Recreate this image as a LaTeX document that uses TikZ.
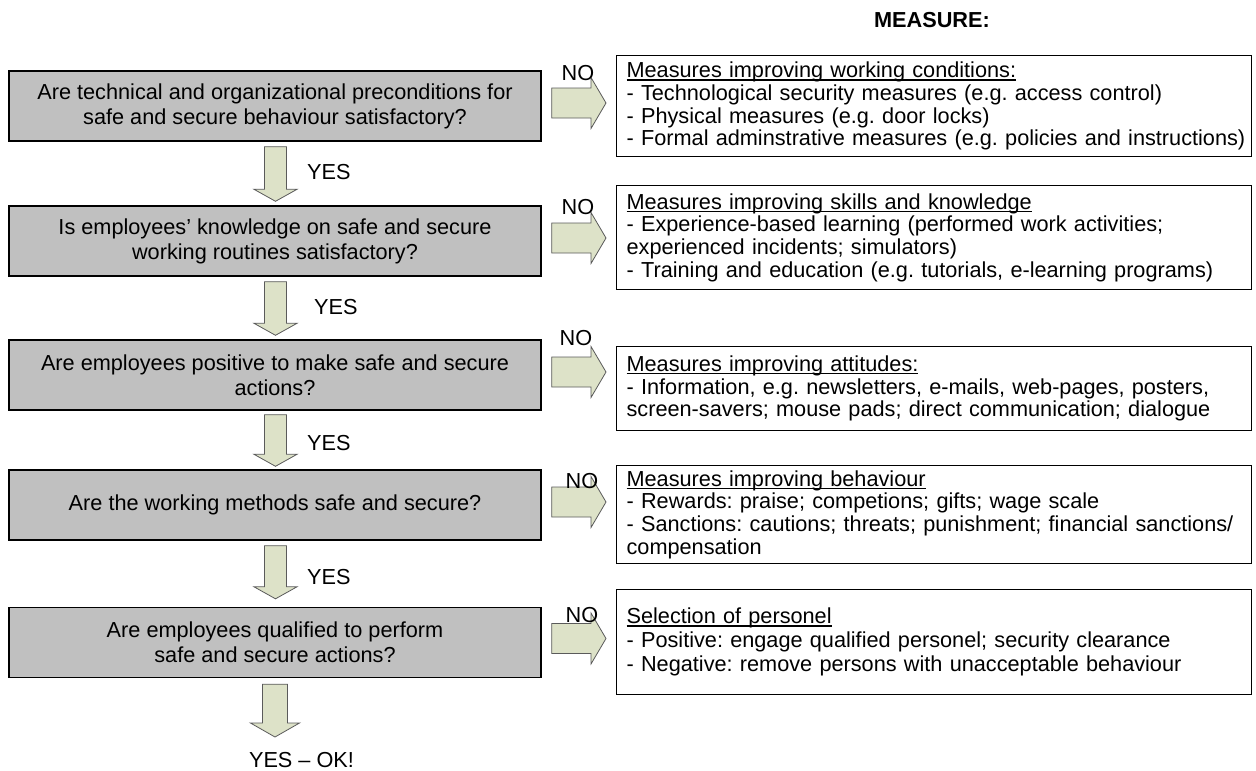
\documentclass[tikz,border=0pt]{standalone}
\usepackage{fontspec}
\setmainfont{Liberation Sans}
\usetikzlibrary{calc}

\definecolor{boxgray}{RGB}{192,192,192}
\definecolor{arrowfill}{RGB}{221,226,200}
\definecolor{arrowline}{RGB}{90,90,90}

% underline that runs just below the baseline, through the descenders
\newcommand{\ulinetext}[1]{\setbox0\hbox{#1}\rlap{\rule[-2.8pt]{\wd0}{1.2pt}}\box0}
% downward block arrow: #1 start, #2 tip, #3 shaft half width, #4 head half width, #5 head length
\newcommand{\downblock}[5]{%
  \path[blockarrow] let \p1=(#1), \p2=(#2) in
    (\x1-#3,\y1) -- (\x1+#3,\y1) -- (\x1+#3,\y2+#5) -- (\x1+#4,\y2+#5)
    -- (\x1,\y2) -- (\x1-#4,\y2+#5) -- (\x1-#3,\y2+#5) -- cycle;}
% rightward block arrow: #1 start, #2 tip, #3 shaft half height, #4 head half height, #5 head length
\newcommand{\rightblock}[5]{%
  \path[blockarrow] let \p1=(#1), \p2=(#2) in
    (\x1,\y1+#3) -- (\x2-#5,\y1+#3) -- (\x2-#5,\y1+#4) -- (\x2,\y1)
    -- (\x2-#5,\y1-#4) -- (\x2-#5,\y1-#3) -- (\x1,\y1-#3) -- cycle;}

\begin{document}
\frenchspacing
\begin{tikzpicture}[x=1pt,y=-1pt,
  font=\fontsize{21.7pt}{25pt}\selectfont,
  question/.style={draw=black, line width=1.4pt, fill=boxgray, minimum width=532pt,
    minimum height=70pt, align=center, inner sep=0pt},
  measure/.style={draw=black, line width=1.2pt, anchor=north west, inner xsep=10.5pt,
    inner ysep=0pt, text width=614pt, align=left},
  tight/.style={font=\fontsize{21.7pt}{22.6pt}\selectfont},
  loose/.style={font=\fontsize{21.7pt}{24pt}\selectfont},
  blockarrow/.style={draw=arrowline, fill=arrowfill, line width=0.8pt, line join=miter},
  lbl/.style={inner sep=0pt}]

\useasboundingbox (0,0) rectangle (1256,771);

\node[lbl, font=\fontsize{21.7pt}{24pt}\bfseries\selectfont] (head) at (932,20.5) {MEASURE:};

% questions
\node[question] (q1) at (275,106) {Are technical and organizational preconditions for\\safe and secure behaviour satisfactory?};
\node[question] (q2) at (275,241) {Is employees’ knowledge on safe and secure\\working routines satisfactory?};
\node[question] (q3) at (275,375) {Are employees positive to make safe and secure\\actions?};
\node[question] (q4) at (275,505) {Are the working methods safe and secure?};
\node[question] (q5) at (275,642.5) {Are employees qualified to perform\\safe and secure actions?};

% measures
\node[measure, tight, minimum height=101pt] (m1) at (615.5,55) {\ulinetext{Measures improving working conditions:}\\
\mbox{- Technological security measures (e.g. access control)}\\
\mbox{- Physical measures (e.g. door locks)}\\
\mbox{- Formal adminstrative measures (e.g. policies and instructions)}};
\node[measure, tight, minimum height=104pt] (m2) at (615.5,185) {\ulinetext{Measures improving skills and knowledge}\\
\mbox{- Experience-based learning (performed work activities;}\\
\mbox{experienced incidents; simulators)}\\
\mbox{- Training and education (e.g. tutorials, e-learning programs)}};
\node[measure, tight, minimum height=84pt] (m3) at (615.5,346) {\ulinetext{Measures improving attitudes:}\\
\mbox{- Information, e.g. newsletters, e-mails, web-pages, posters,}\\
\mbox{screen-savers; mouse pads; direct communication; dialogue}};
\node[measure, tight, minimum height=98pt] (m4) at (615.5,465) {\ulinetext{Measures improving behaviour}\\
\mbox{- Rewards: praise; competions; gifts; wage scale}\\
\mbox{- Sanctions: cautions; threats; punishment; financial sanctions/}\\
\mbox{compensation}};
\node[measure, loose, minimum height=105pt] (m5) at (615.5,589) {\ulinetext{Selection of personel}\\
\mbox{- Positive: engage qualified personel; security clearance}\\
\mbox{- Negative: remove persons with unacceptable behaviour}};

% YES arrows down the chain
\downblock{$(q1.south)+(0.5,5)$}{$(q2.north)+(0.5,-4)$}{11pt}{21.5pt}{12pt}
\downblock{$(q2.south)+(0.5,5)$}{$(q3.north)+(0.5,-4)$}{11pt}{21.5pt}{12pt}
\downblock{$(q3.south)+(0.5,4)$}{$(q4.north)+(0.5,-3)$}{11pt}{21.5pt}{12pt}
\downblock{$(q4.south)+(0.5,5)$}{$(q5.north)+(0.5,-8)$}{11pt}{21.5pt}{12pt}
\coordinate (okTip) at (275,737);
\downblock{$(q5.south)+(0,6)$}{okTip}{12.5pt}{24.5pt}{14pt}

% NO arrows to the measures
\rightblock{$(q1.east)+(10,-3)$}{$(m1.west)+(-9.5,0)$}{15pt}{25.5pt}{15pt}
\rightblock{$(q2.east)+(10,-3)$}{$(m2.west)+(-9.5,0)$}{15pt}{25.5pt}{15pt}
\rightblock{$(q3.east)+(10,-3)$}{$(m3.west)+(-9.5,0)$}{15pt}{25.5pt}{15pt}
\rightblock{$(q4.east)+(10,-3)$}{$(m4.west)+(-9.5,0)$}{15pt}{25.5pt}{15pt}
\rightblock{$(q5.east)+(10,-4)$}{$(m5.west)+(-9.5,0)$}{15pt}{25.5pt}{15pt}

% labels
\node[lbl, anchor=west] (y1) at (307,172) {YES};
\node[lbl, anchor=west] (y2) at (314,307) {YES};
\node[lbl, anchor=west] (y3) at (307,443) {YES};
\node[lbl, anchor=west] (y4) at (307,577) {YES};
\node[lbl] (ok) at (301.5,760.5) {YES – OK!};

\node[lbl] (n1) at (578,73) {NO};
\node[lbl] (n2) at (578,207) {NO};
\node[lbl] (n3) at (576,338) {NO};
\node[lbl] (n4) at (582,481) {NO};
\node[lbl] (n5) at (582,615) {NO};
\end{tikzpicture}
\end{document}
